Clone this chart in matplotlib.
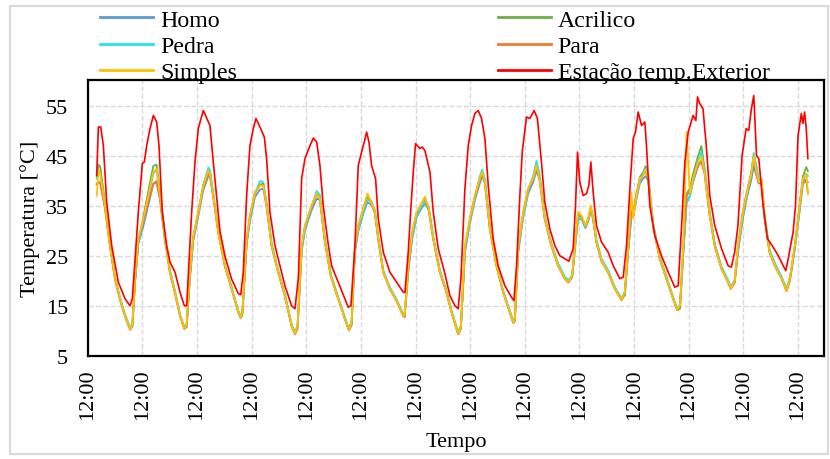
import matplotlib
matplotlib.use("Agg")
import matplotlib.pyplot as plt
from matplotlib.patches import Rectangle

plt.rcParams['font.family'] = ['Liberation Serif', 'DejaVu Serif']

# Time axis in days since the first 12:00 mark
tick_pos = list(range(14))
tick_lbl = ['12:00'] * 14

# Estação temp.Exterior (red)
t_ext = [0.164, 0.195, 0.238, 0.286, 0.347, 0.439, 0.560, 0.682, 0.774, 0.816, 0.926,
         0.999, 1.036, 1.079, 1.140, 1.201, 1.262, 1.304, 1.365, 1.445, 1.506, 1.597, 1.689, 1.768, 1.811, 1.902,
         1.963, 2.024, 2.115, 2.207, 2.237, 2.298, 2.42, 2.51, 2.63, 2.756, 2.80, 2.847, 2.908,
         2.969, 3.03, 3.079, 3.152, 3.232, 3.274, 3.335, 3.427, 3.518, 3.609, 3.731, 3.793, 3.854, 3.915,
         3.976, 4.068, 4.129, 4.19, 4.25, 4.31, 4.40, 4.463, 4.585, 4.707, 4.768, 4.817, 4.89,
         4.951, 5.012, 5.061, 5.104, 5.147, 5.195, 5.268, 5.317, 5.409, 5.53, 5.653, 5.775, 5.805, 5.866,
         5.915, 5.958, 6.0, 6.08, 6.122, 6.171, 6.263, 6.324, 6.415, 6.537, 6.628, 6.72, 6.78, 6.83,
         6.903, 6.964, 7.025, 7.086, 7.147, 7.208, 7.269, 7.33, 7.42, 7.512, 7.634, 7.756, 7.80, 7.848,
         7.909, 7.952, 8.03, 8.09, 8.17, 8.23, 8.304, 8.365, 8.457, 8.549, 8.64, 8.732, 8.805, 8.884,
         8.927, 8.964, 9.006, 9.067, 9.128, 9.171, 9.208, 9.25, 9.311, 9.403, 9.525, 9.617, 9.739, 9.8, 9.861,
         9.922, 9.983, 10.025, 10.074, 10.135, 10.196, 10.226, 10.287, 10.379, 10.5, 10.623, 10.745, 10.806, 10.866,
         10.928, 10.99, 11.08, 11.13, 11.16, 11.2, 11.26, 11.32, 11.385, 11.476, 11.6, 11.72, 11.78, 11.84, 11.9,
         11.976, 12.05, 12.097, 12.147, 12.19, 12.24, 12.281, 12.36, 12.44, 12.545, 12.637, 12.728, 12.776, 12.82, 12.91,
         12.953, 13.0, 13.06, 13.09, 13.12, 13.15, 13.18]
exterior = [41.1, 50.8, 50.8, 47.1, 35.8, 27.1, 19.8, 16.5, 15.1, 16.5, 33.8,
            43.5, 43.8, 47.1, 50.5, 53.1, 51.8, 47.1, 33.8, 27.1, 23.8, 21.8, 17.8, 15.1, 15.1, 33.8,
            43.8, 50.5, 54.1, 51.8, 51.1, 43.8, 30.0, 25.1, 20.5, 17.5, 17.3, 21.8, 37.1,
            47.1, 50.5, 52.5, 50.8, 48.8, 44.5, 33.8, 27.1, 23.1, 19.1, 15.1, 14.5, 20.5, 40.5,
            44.5, 47.1, 48.6, 47.8, 43.1, 35.1, 27.5, 23.1, 19.8, 16.5, 14.8, 15.1, 27.1,
            43.1, 45.8, 47.8, 49.8, 47.8, 43.1, 40.5, 32.5, 25.8, 21.8, 19.8, 17.8, 17.8, 25.8,
            34.8, 41.8, 47.5, 46.5, 46.8, 46.1, 41.8, 33.8, 26.5, 21.5, 17.1, 15.1, 14.5, 20.5,
            38.5, 47.1, 51.1, 53.5, 54.1, 52.5, 48.5, 39.1, 28.5, 23.1, 19.1, 16.8, 16.1, 23.1,
            37.1, 45.8, 52.8, 52.5, 54.1, 52.5, 43.8, 35.8, 30.5, 27.1, 25.1, 24.5, 24.0, 26.5,
            35.1, 45.8, 39.8, 37.1, 37.5, 39.1, 43.8, 37.8, 31.1, 27.8, 25.8, 23.1, 20.5, 20.8, 27.1,
            38.5, 48.5, 49.8, 53.8, 51.1, 51.8, 47.1, 35.1, 29.1, 25.1, 21.8, 18.8, 19.1, 30.5,
            43.8, 49.8, 53.1, 52.1, 56.8, 55.5, 54.5, 47.1, 37.1, 31.1, 26.5, 23.1, 22.8, 25.8, 31.1,
            45.1, 50.5, 50.1, 54.5, 57.1, 45.1, 44.5, 35.1, 28.5, 26.8, 25.1, 23.1, 22.1, 24.5, 29.8,
            35.1, 49.1, 53.5, 51.5, 53.8, 50.5, 44.5]

# Shared time grid for the five sample series
t_in = [0.164, 0.20, 0.23, 0.315, 0.408, 0.50, 0.59, 0.682, 0.774, 0.816, 0.865, 0.926,
        1.018, 1.109, 1.20, 1.26, 1.323, 1.414, 1.506, 1.597, 1.689, 1.768, 1.81, 1.87, 1.932,
        2.024, 2.115, 2.207, 2.237, 2.298, 2.39, 2.51, 2.634, 2.756, 2.80, 2.83, 2.908,
        2.969, 3.06, 3.152, 3.213, 3.274, 3.366, 3.488, 3.609, 3.731, 3.793, 3.84, 3.915,
        3.976, 4.098, 4.19, 4.25, 4.34, 4.45, 4.585, 4.707, 4.78, 4.83, 4.89,
        4.951, 5.043, 5.12, 5.195, 5.256, 5.317, 5.409, 5.53, 5.653, 5.775, 5.80, 5.866,
        5.94, 6.02, 6.11, 6.171, 6.24, 6.324, 6.446, 6.56, 6.66, 6.78, 6.83, 6.903,
        6.995, 7.086, 7.177, 7.22, 7.269, 7.36, 7.482, 7.604, 7.726, 7.787, 7.817, 7.878,
        7.97, 8.06, 8.153, 8.214, 8.27, 8.365, 8.487, 8.61, 8.732, 8.80, 8.866,
        8.927, 8.976, 9.037, 9.11, 9.171, 9.208, 9.25, 9.311, 9.403, 9.525, 9.647, 9.77, 9.83, 9.89,
        9.95, 9.983, 10.044, 10.105, 10.166, 10.21, 10.257, 10.348, 10.47, 10.593, 10.715, 10.79, 10.84, 10.90,
        10.96, 11.02, 11.08, 11.17, 11.23, 11.29, 11.385, 11.476, 11.60, 11.72, 11.77, 11.84, 11.90,
        11.99, 12.08, 12.14, 12.19, 12.24, 12.28, 12.33, 12.39, 12.48, 12.58, 12.70, 12.79, 12.85, 12.94,
        13.03, 13.09, 13.15, 13.18]

simples = [37.1, 42.1, 41.5, 35.1, 27.1, 20.5, 16.5, 13.1, 10.5, 11.1, 20.5, 28.5,
           32.5, 37.1, 41.8, 42.5, 37.1, 28.5, 21.8, 17.8, 13.1, 10.6, 11.1, 21.8, 29.1,
           33.8, 39.1, 42.1, 41.5, 37.1, 29.8, 23.1, 18.5, 13.8, 12.8, 13.8, 28.5,
           33.1, 37.8, 39.1, 39.1, 35.1, 27.1, 21.8, 17.1, 11.1, 9.5, 11.1, 27.1,
           31.1, 35.1, 37.5, 36.5, 28.0, 21.0, 16.5, 12.5, 10.3, 11.8, 27.1,
           31.1, 34.5, 37.5, 35.5, 33.8, 28.5, 21.8, 18.5, 16.1, 13.1, 13.2, 23.1,
           29.8, 33.8, 35.5, 36.8, 34.5, 28.5, 21.8, 18.0, 13.8, 9.5, 11.1, 27.1,
           32.5, 37.1, 40.5, 41.8, 39.8, 30.5, 23.1, 17.8, 13.8, 11.8, 12.5, 27.1,
           33.8, 38.5, 40.5, 43.1, 40.5, 32.5, 27.1, 23.1, 20.5, 19.8, 21.1,
           28.5, 33.9, 33.1, 31.1, 33.1, 35.1, 32.5, 27.8, 24.1, 21.8, 18.5, 16.3, 17.8, 27.1,
           37.8, 32.5, 37.1, 40.5, 41.1, 42.3, 40.5, 31.1, 24.5, 20.5, 16.5, 14.3, 15.1, 27.1,
           49.8, 37.5, 40.5, 43.8, 45.0, 41.8, 33.1, 27.1, 22.5, 19.8, 18.5, 20.1, 27.1,
           33.8, 38.5, 41.1, 45.1, 41.8, 39.8, 40.5, 32.5, 25.8, 23.1, 20.5, 18.1, 20.5, 27.1,
           35.1, 40.5, 41.5, 37.5]

acrilico = [41.1, 43.3, 42.8, 35.8, 27.3, 20.6, 16.6, 13.2, 10.6, 10.9, 19.5, 27.8,
            32.8, 38.0, 43.0, 43.3, 38.0, 28.8, 22.0, 17.9, 13.2, 10.5, 10.8, 20.8, 28.6,
            34.0, 39.3, 42.3, 41.8, 37.3, 30.0, 23.2, 18.6, 13.9, 12.7, 13.2, 27.6,
            33.0, 37.6, 39.3, 39.5, 35.3, 27.3, 21.9, 17.2, 11.2, 9.4, 10.5, 26.3,
            31.0, 35.0, 37.5, 36.8, 28.3, 21.2, 16.6, 12.6, 10.2, 11.2, 26.0,
            31.0, 34.3, 37.0, 35.8, 34.0, 28.7, 21.9, 18.6, 16.2, 13.2, 12.8, 22.0,
            29.6, 33.5, 35.3, 36.5, 34.8, 28.7, 21.9, 18.1, 13.9, 9.4, 10.5, 26.0,
            32.4, 37.0, 40.6, 41.5, 40.0, 30.7, 23.2, 17.9, 13.9, 11.7, 12.0, 26.0,
            33.6, 38.4, 40.8, 43.5, 41.0, 32.8, 27.3, 23.3, 20.7, 20.0, 21.0,
            28.2, 33.3, 32.8, 31.0, 32.8, 34.6, 32.6, 28.0, 24.3, 22.0, 18.6, 16.4, 17.2, 26.0,
            34.0, 33.5, 37.6, 40.8, 41.8, 43.0, 41.0, 31.4, 24.7, 20.7, 16.6, 14.2, 14.5, 26.0,
            37.5, 38.5, 41.5, 45.0, 47.0, 42.5, 33.5, 27.3, 22.7, 20.0, 18.6, 19.6, 26.0,
            34.0, 38.7, 41.5, 45.3, 42.5, 40.0, 40.2, 32.8, 26.0, 23.3, 20.7, 18.2, 20.0, 26.5,
            35.5, 41.0, 42.8, 42.0]

pedra = [40.5, 42.0, 41.3, 35.3, 27.4, 20.8, 16.8, 13.4, 10.8, 11.4, 20.0, 27.8,
         32.0, 36.8, 41.5, 42.2, 37.5, 28.8, 22.1, 18.1, 13.4, 10.9, 11.4, 21.0, 28.5,
         33.5, 39.0, 42.7, 42.2, 37.6, 30.2, 23.4, 18.8, 14.1, 13.1, 14.0, 27.5,
         32.5, 37.5, 40.0, 39.8, 35.6, 27.5, 22.1, 17.4, 11.4, 9.8, 11.3, 26.2,
         30.5, 35.0, 38.0, 37.2, 28.6, 21.4, 16.8, 12.8, 10.6, 12.0, 26.0,
         30.2, 33.8, 36.5, 35.6, 34.0, 28.9, 22.2, 18.8, 16.4, 13.4, 13.5, 22.5,
         29.0, 33.0, 35.0, 36.0, 34.8, 28.9, 22.2, 18.3, 14.1, 9.8, 11.3, 26.0,
         32.0, 36.8, 41.0, 42.3, 40.4, 30.9, 23.4, 18.1, 14.1, 12.1, 12.8, 26.0,
         33.0, 38.0, 41.0, 44.1, 41.3, 33.0, 27.5, 23.5, 20.9, 20.2, 21.3,
         27.8, 32.8, 32.5, 30.8, 32.6, 34.4, 32.7, 28.2, 24.5, 22.2, 18.8, 16.6, 18.0, 26.2,
         33.0, 33.0, 36.8, 40.0, 41.5, 42.6, 41.2, 31.6, 24.9, 20.9, 16.8, 14.6, 15.3, 25.5,
         35.5, 37.0, 40.2, 44.2, 45.8, 42.3, 33.6, 27.5, 22.9, 20.2, 18.9, 20.3, 26.0,
         33.0, 38.0, 41.3, 45.6, 43.0, 40.3, 40.0, 33.0, 26.2, 23.5, 20.9, 18.5, 20.8, 26.5,
         34.5, 40.0, 41.5, 41.0]

para = [39.5, 39.8, 39.5, 34.6, 26.9, 20.3, 16.3, 13.0, 10.3, 10.9, 20.2, 28.3,
        32.0, 35.8, 39.5, 40.0, 36.5, 28.2, 21.6, 17.6, 13.0, 10.5, 11.0, 21.5, 28.9,
        33.6, 38.8, 41.5, 41.2, 36.9, 29.6, 23.0, 18.4, 13.7, 12.7, 13.7, 28.2,
        33.0, 37.7, 39.2, 39.4, 35.0, 27.0, 21.7, 17.0, 11.0, 9.4, 11.0, 26.9,
        31.0, 35.0, 37.4, 36.4, 27.9, 20.9, 16.4, 12.4, 10.2, 11.7, 26.8,
        31.0, 34.4, 37.3, 35.4, 33.7, 28.4, 21.7, 18.4, 16.0, 13.0, 13.1, 22.9,
        29.7, 33.7, 35.5, 36.8, 34.4, 28.4, 21.7, 17.9, 13.7, 9.4, 11.0, 26.8,
        32.4, 37.0, 40.4, 41.5, 39.7, 30.4, 23.0, 17.7, 13.7, 11.7, 12.4, 26.8,
        33.7, 38.4, 40.4, 43.0, 40.4, 32.4, 27.0, 23.0, 20.4, 19.7, 21.0,
        28.4, 33.5, 32.9, 31.0, 32.9, 34.8, 32.4, 27.7, 24.0, 21.7, 18.4, 16.2, 17.7, 26.8,
        34.0, 33.5, 37.2, 40.4, 41.2, 42.0, 40.4, 31.0, 24.4, 20.4, 16.4, 14.2, 15.0, 26.8,
        37.0, 38.0, 40.5, 43.0, 44.0, 41.5, 33.0, 27.0, 22.4, 19.7, 18.4, 20.0, 26.8,
        33.6, 38.3, 41.0, 44.5, 41.5, 39.6, 40.3, 32.4, 25.7, 23.0, 20.4, 18.0, 20.4, 27.0,
        35.0, 40.0, 40.3, 37.5]

homo = [39.3, 39.8, 39.6, 34.8, 27.0, 20.4, 16.4, 13.1, 10.5, 11.0, 19.8, 27.5,
        31.0, 35.2, 39.4, 39.7, 36.2, 28.3, 21.7, 17.7, 13.1, 10.6, 11.0, 20.6, 28.2,
        33.0, 38.2, 41.0, 40.9, 36.8, 29.7, 23.0, 18.5, 13.8, 12.8, 13.6, 27.4,
        32.0, 36.8, 38.3, 38.5, 34.8, 27.0, 21.7, 17.1, 11.1, 9.5, 10.9, 26.0,
        30.2, 34.2, 36.5, 36.2, 27.9, 21.0, 16.5, 12.5, 10.3, 11.5, 25.8,
        30.0, 33.5, 35.8, 35.2, 33.6, 28.4, 21.8, 18.5, 16.1, 13.1, 13.2, 22.0,
        28.5, 32.8, 34.6, 35.5, 34.2, 28.4, 21.7, 18.0, 13.8, 9.5, 10.9, 25.8,
        31.6, 36.2, 39.6, 41.0, 39.6, 30.4, 23.0, 17.8, 13.8, 11.8, 12.3, 25.8,
        32.8, 37.5, 39.8, 42.1, 40.2, 32.4, 27.0, 23.1, 20.5, 19.8, 20.8,
        27.5, 32.5, 32.4, 30.6, 32.4, 34.3, 32.3, 27.7, 24.0, 21.8, 18.5, 16.3, 17.5, 25.8,
        33.0, 33.0, 36.5, 39.6, 40.5, 41.0, 40.0, 31.0, 24.4, 20.5, 16.5, 14.3, 14.9, 25.8,
        36.0, 37.0, 39.8, 43.0, 44.0, 41.5, 33.0, 27.0, 22.5, 19.8, 18.5, 19.9, 25.8,
        32.5, 37.5, 40.0, 43.0, 41.0, 39.5, 39.8, 32.4, 25.7, 23.0, 20.5, 18.1, 20.2, 26.5,
        34.0, 39.5, 40.0, 39.8]

series = [
    ('Homo', homo, '#5B9BD5'),
    ('Acrilico', acrilico, '#70AD47'),
    ('Pedra', pedra, '#22E6EE'),
    ('Para', para, '#ED7D31'),
    ('Simples', simples, '#FFC000'),
]

fig = plt.figure(figsize=(8.3, 4.6), dpi=100)
fig.patches.append(Rectangle((0.012, 0.01), 0.986, 0.975, transform=fig.transFigure,
                             fill=False, edgecolor='#d9d9d9', linewidth=1.5))
ax = fig.add_axes([0.1057, 0.2233, 0.8874, 0.6007])

lines = {}
for name, vals, col in series:
    lines[name], = ax.plot(t_in, vals, color=col, lw=1.3, label=name)
lines['ext'], = ax.plot(t_ext, exterior, color='#FF0000', lw=1.2,
                        label='Estação temp.Exterior')

ax.set_xlim(0, 13.48)
ax.set_ylim(5, 60.2)
ax.set_yticks([5, 15, 25, 35, 45, 55])
ax.set_xticks(tick_pos)
ax.set_xticklabels(tick_lbl, rotation=90)
ax.tick_params(axis='both', length=0, labelsize=16)
ax.tick_params(axis='y', pad=14)
ax.tick_params(axis='x', pad=9)
ax.grid(True, color='#d9d9d9', linestyle='--', linewidth=1)
ax.set_axisbelow(True)
for sp in ax.spines.values():
    sp.set_linewidth(1.6)

ax.set_xlabel('Tempo', fontsize=16, labelpad=9)
ax.set_ylabel('Temperatura [°C]', fontsize=16, labelpad=4)

# legend in two blocks above the plot
leg_kw = dict(frameon=False, loc='upper left', fontsize=17.2, handlelength=2.2,
              handletextpad=0.3, labelspacing=0.18, borderpad=0, borderaxespad=0)
leg1 = fig.legend([lines['Homo'], lines['Pedra'], lines['Simples']],
                  ['Homo', 'Pedra', 'Simples'], bbox_to_anchor=(0.121, 0.978), **leg_kw)
leg2 = fig.legend([lines['Acrilico'], lines['Para'], lines['ext']],
                  ['Acrilico', 'Para', 'Estação temp.Exterior'],
                  bbox_to_anchor=(0.6, 0.978), **leg_kw)
for lg in (leg1, leg2):
    for h in lg.legend_handles:
        h.set_linewidth(2)

fig.savefig('out.png', dpi=100)
